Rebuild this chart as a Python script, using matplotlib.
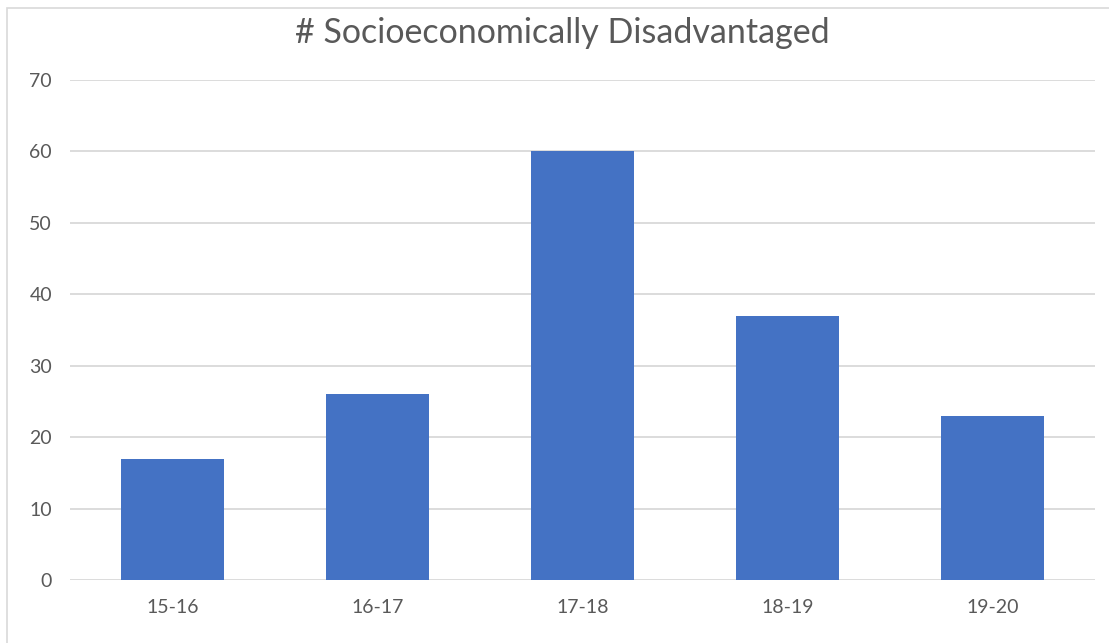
import matplotlib.pyplot as plt
from matplotlib.patches import Rectangle

years = ['15-16', '16-17', '17-18', '18-19', '19-20']
counts = [17, 26, 60, 37, 23]
yticks = [0, 10, 20, 30, 40, 50, 60, 70]

plt.rcParams['font.family'] = ['Lato', 'DejaVu Sans']

fig = plt.figure(figsize=(11.09, 6.43), dpi=100)
ax = fig.add_axes([70 / 1109, 63 / 643, 1025 / 1109, 500 / 643])

ax.bar(range(len(years)), counts, width=0.5, color='#4472C4', zorder=3)

ax.set_xlim(-0.5, len(years) - 0.5)
ax.set_ylim(0, 70)
ax.set_yticks(yticks)
ax.set_xticks(range(len(years)))
ax.set_xticklabels(years)
ax.tick_params(axis='both', length=0, colors='#595959', labelsize=14)
ax.tick_params(axis='y', pad=13)
ax.tick_params(axis='x', pad=14)
ax.grid(axis='y', color='#d9d9d9', linewidth=1.3, zorder=0)
for s in ax.spines.values():
    s.set_visible(False)

fig.text(562 / 1109, 1 - 33 / 643, '# Socioeconomically Disadvantaged',
         ha='center', va='center', fontsize=24.5, color='#595959')

# light frame around the chart area
fig.patches.append(Rectangle((6.5 / 1109, -0.1), 1.2, 1 - 8 / 643 + 0.1,
                             transform=fig.transFigure, fill=False,
                             edgecolor='#d9d9d9', linewidth=1.2))

fig.savefig('out.png', dpi=100)
